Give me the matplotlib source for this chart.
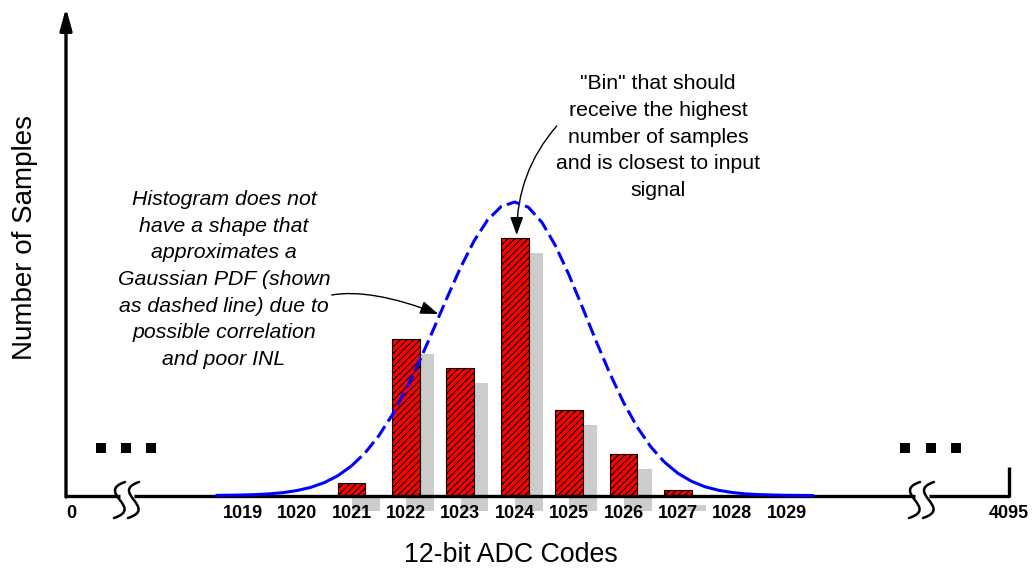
import numpy as np
import matplotlib.pyplot as plt
from matplotlib.path import Path
from matplotlib.patches import PathPatch

plt.rcParams['font.family'] = ['Liberation Sans', 'DejaVu Sans']
plt.rcParams['hatch.linewidth'] = 0.8

# histogram actually measured (sample counts, arbitrary units)
codes = [1021, 1022, 1023, 1024, 1025, 1026, 1027]
counts = [13, 157, 128, 258, 85.5, 42, 6]

# gaussian pdf (dashed curve), sampled every quarter code
pdf_codes = np.arange(1018.5, 1029.51, 0.25)
pdf_vals = [0.1, 0.3, 0.5, 0.9, 1.7, 2.9, 5.0, 8.1, 12.9, 19.8, 29.6,
            42.6, 59.6, 80.7, 105.8, 134.4, 165.3, 197.0, 227.4, 254.3,
            275.4, 288.9, 293.5, 288.3, 273.2, 249.7, 220.3, 187.5, 153.9,
            121.9, 93.1, 68.6, 48.8, 33.5, 22.2, 14.2, 8.7, 5.2, 3.0, 1.6,
            0.9, 0.5, 0.2, 0.1, 0.0]

tick_codes = [1019, 1020, 1021, 1022, 1023, 1024, 1025, 1026, 1027, 1028, 1029]
end_labels = ['0', '4095']

left_note = ['Histogram does not', 'have a shape that', 'approximates a',
             'Gaussian PDF (shown', 'as dashed line) due to',
             'possible correlation', 'and poor INL']
right_note = ['"Bin" that should', 'receive the highest',
              'number of samples', 'and is closest to input', 'signal']


# layout helpers: picture pixels -> data units
def px2code(px):
    return 1021 + (px - 351.5) / 54.4


def py2y(py):
    return 495.5 - py


fig = plt.figure(figsize=(10.34, 5.73), dpi=100)
ax = fig.add_axes([0, 0, 1, 1])
ax.set_xlim(px2code(0), px2code(1034))
ax.set_ylim(-77.5, 495.5)
ax.axis('off')

# bars with grey drop shadow
codes_arr = np.array(codes)
ax.bar(codes_arr + 0.26, counts, width=0.51, bottom=-15, color='#cccccc', zorder=1)
ax.bar(codes_arr, counts, width=0.51, color='#ff0000', edgecolor='black',
       linewidth=0.8, hatch='/////', zorder=2)

# gaussian: solid tails, dashed middle
pdf_vals = np.array(pdf_vals)
left = pdf_codes <= 1021.0
mid = (pdf_codes >= 1021.0) & (pdf_codes <= 1026.75)
right = pdf_codes >= 1026.75
for m, ls in [(left, '-'), (mid, (0, (4.5, 1.8))), (right, '-')]:
    ax.plot(pdf_codes[m], pdf_vals[m], color='#0000ff', lw=2.2, ls=ls,
            solid_capstyle='butt', zorder=4)

# x axis with breaks and end tick
axis_kw = dict(color='black', lw=2.4, solid_capstyle='butt', zorder=3)
ax.plot([px2code(64.5), px2code(120)], [0, 0], **axis_kw)
ax.plot([px2code(134), px2code(915)], [0, 0], **axis_kw)
ax.plot([px2code(929), px2code(1009), px2code(1009)], [0, 0, py2y(467)], **axis_kw)


def s_mark(cx, cy):
    offs = [(5, 18), (-25, 8), (25, -8), (-6, -18)]
    verts = [(px2code(cx + ox), py2y(cy) + oy) for ox, oy in offs]
    path = Path(verts, [Path.MOVETO, Path.CURVE4, Path.CURVE4, Path.CURVE4])
    ax.add_patch(PathPatch(path, fill=False, lw=1.8, capstyle='round', zorder=5))


for cx in [120, 134, 915, 929]:
    s_mark(cx, 500)

# y axis arrow
ax.annotate('', xy=(px2code(66), py2y(8)), xytext=(px2code(66), -1.5),
            arrowprops=dict(arrowstyle='-|>,head_length=0.65,head_width=0.18',
                            mutation_scale=20, color='black', lw=2.4,
                            shrinkA=0, shrinkB=0))

# ellipsis dots
ax.scatter([px2code(p) for p in [101, 126, 151, 905, 930.5, 955.7]],
           [py2y(448)] * 6, marker='s', s=52, c='black', linewidths=0, zorder=5)

# tick labels
for c in tick_codes:
    ax.text(c, py2y(518.3), str(c), ha='center', va='baseline',
            fontsize=13, fontweight='bold')
for lab, px in zip(end_labels, [71, 1009]):
    ax.text(px2code(px), py2y(518.3), lab, ha='center', va='baseline',
            fontsize=13, fontweight='bold')

ax.text(px2code(510.5), py2y(561.7), '12-bit ADC Codes', ha='center',
        va='baseline', fontsize=19.3)
ax.text(px2code(31.7), py2y(237.5), 'Number of Samples', rotation=90,
        rotation_mode='anchor', ha='center', va='baseline', fontsize=20)

# notes
for i, line in enumerate(left_note):
    ax.text(px2code(224), py2y(205 + 26.7 * i), line, ha='center',
            va='baseline', fontsize=15.3, style='italic')
for i, line in enumerate(right_note):
    ax.text(px2code(658), py2y(89.3 + 26.7 * i), line, ha='center',
            va='baseline', fontsize=15.3)

arrow_kw = dict(arrowstyle='-|>,head_length=0.55,head_width=0.2',
                mutation_scale=20, color='black', lw=1.0, shrinkA=0, shrinkB=0)
ax.annotate('', xy=(px2code(438.3), py2y(314)), xytext=(px2code(331.7), py2y(295)),
            arrowprops=dict(connectionstyle='angle3,angleA=10,angleB=-21', **arrow_kw))
ax.annotate('', xy=(px2code(516.7), py2y(235)), xytext=(px2code(556.7), py2y(126)),
            arrowprops=dict(connectionstyle='angle3,angleA=49,angleB=90', **arrow_kw))

fig.savefig('out.png', dpi=100)
